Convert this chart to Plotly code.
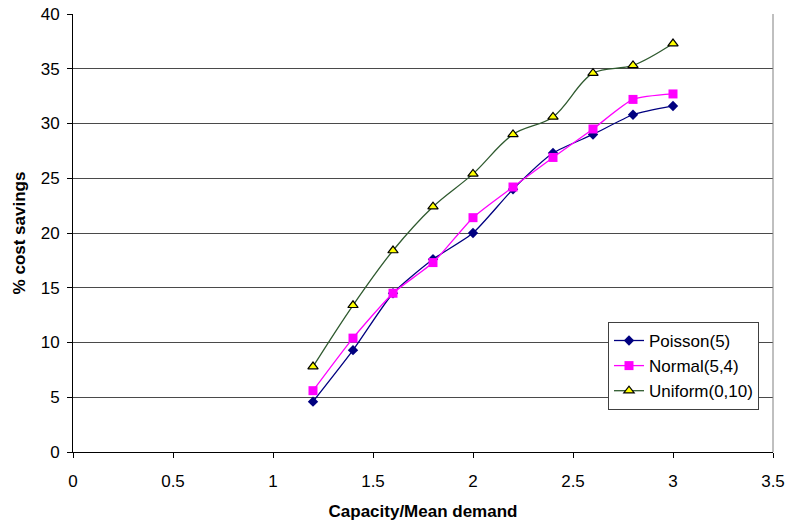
import plotly.graph_objects as go

# Capacity relative to mean demand
capacity_ratio = [1.2, 1.4, 1.6, 1.8, 2.0, 2.2, 2.4, 2.6, 2.8, 3.0]

# Percentage cost savings per demand distribution
poisson_5 = [4.6, 9.3, 14.5, 17.6, 20.0, 24.0, 27.3, 29.0, 30.8, 31.6]
normal_5_4 = [5.6, 10.4, 14.5, 17.3, 21.4, 24.2, 26.9, 29.5, 32.2, 32.7]
uniform_0_10 = [7.8, 13.4, 18.4, 22.4, 25.4, 29.0, 30.6, 34.6, 35.3, 37.3]

x_ticks = [0, 0.5, 1, 1.5, 2, 2.5, 3, 3.5]
x_tick_text = ["0", "0.5", "1", "1.5", "2", "2.5", "3", "3.5"]
y_ticks = [0, 5, 10, 15, 20, 25, 30, 35, 40]

FONT = "Liberation Sans, Arial, sans-serif"

fig = go.Figure()

fig.add_trace(go.Scatter(
    x=capacity_ratio, y=poisson_5, name="Poisson(5)",
    mode="lines+markers",
    line=dict(color="#000080", width=1.3, shape="spline", smoothing=0.6),
    marker=dict(symbol="diamond", size=8, color="#000080"),
))
fig.add_trace(go.Scatter(
    x=capacity_ratio, y=normal_5_4, name="Normal(5,4)",
    mode="lines+markers",
    line=dict(color="#FF00FF", width=1.3, shape="spline", smoothing=0.6),
    marker=dict(symbol="square", size=9, color="#FF00FF"),
))
fig.add_trace(go.Scatter(
    x=capacity_ratio, y=uniform_0_10, name="Uniform(0,10)",
    mode="lines+markers",
    line=dict(color="#2F5A2F", width=1.3, shape="spline", smoothing=1.0),
    marker=dict(symbol="triangle-up", size=9, color="#FFFF00",
                line=dict(color="#000000", width=1.2)),
))

# Right-hand border of the plotting area
fig.add_shape(type="line", xref="paper", yref="paper",
              x0=1, x1=1, y0=0, y1=1,
              line=dict(color="#808080", width=1))

fig.update_layout(
    width=790, height=523,
    margin=dict(l=73, r=17, t=14, b=71),
    paper_bgcolor="white", plot_bgcolor="white",
    font=dict(family=FONT, size=17, color="#000000"),
    showlegend=True,
    legend=dict(
        x=0.98, y=0.096, xanchor="right", yanchor="bottom",
        bgcolor="white", bordercolor="#404040", borderwidth=1,
        font=dict(family=FONT, size=17, color="#000000"),
        tracegroupgap=0, itemwidth=30,
    ),
    xaxis=dict(
        range=[0, 3.5], tickvals=x_ticks, ticktext=x_tick_text,
        showgrid=False, zeroline=False, automargin=False,
        showline=True, linecolor="#000000", linewidth=1,
        ticks="outside", ticklen=5, tickcolor="#000000",
        ticklabelstandoff=9,
        tickfont=dict(family=FONT, size=17),
        title=dict(text="<b>Capacity/Mean demand</b>",
                   font=dict(family=FONT, size=17), standoff=14),
    ),
    yaxis=dict(
        range=[0, 40], tickvals=y_ticks,
        showgrid=True, gridcolor="#4a4a4a", gridwidth=1,
        zeroline=False, automargin=False,
        showline=True, linecolor="#000000", linewidth=1,
        ticks="outside", ticklen=5, tickcolor="#000000",
        ticklabelstandoff=4,
        tickfont=dict(family=FONT, size=17),
        title=dict(text="<b>% cost savings</b>",
                   font=dict(family=FONT, size=17), standoff=10),
    ),
)

fig.write_html("out.html")
